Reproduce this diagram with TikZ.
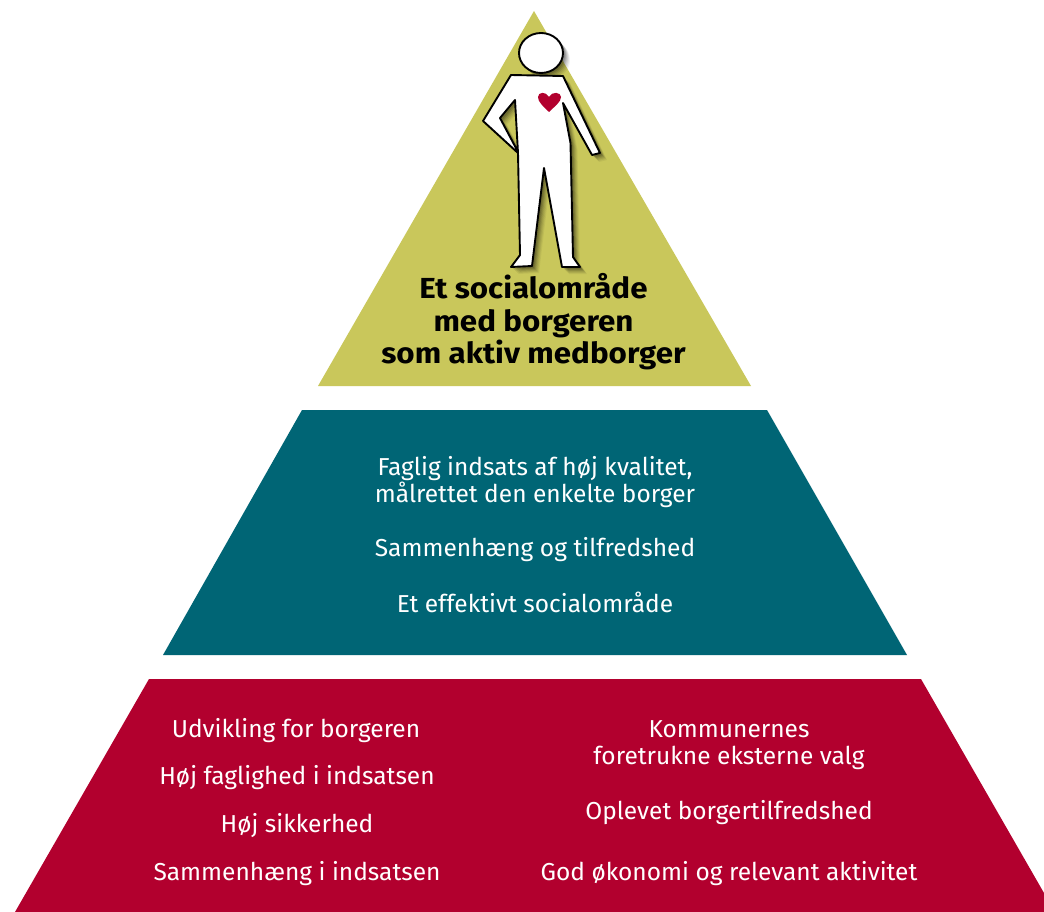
\documentclass[tikz,border=0pt]{standalone}
\usepackage{fontspec}
\setmainfont{Fira Sans}
\newfontfamily\topfont{Fira Sans}[FakeStretch=1.08]
\definecolor{olive}{HTML}{C9C75B}
\definecolor{teal}{HTML}{006575}
\definecolor{crim}{HTML}{B2002E}
\tikzset{x=1pt,y=-1pt,
 wtext/.style={text=white,font=\fontsize{24.5}{27.5}\selectfont,align=center,inner sep=0pt},
 btext/.style={text=black,font=\topfont\fontsize{29}{32.5}\selectfont\bfseries,align=center,inner sep=0pt},
 tier/.style={draw=none}}
\begin{document}
\begin{tikzpicture}
\useasboundingbox[fill=white] (0,0) rectangle (1044,912);
\fill[olive,tier] (534,11) -- (751,386) -- (318,386) -- cycle;
\fill[teal,tier] (302,410) -- (767,410) -- (907,655) -- (163,655) -- cycle;
\fill[crim,tier] (149,679) -- (921,679) -- (1044,893) -- (1044,912) -- (15,912) -- cycle;
% figure shadow
\def\figpath{(511,75) -- (563,76) -- (600,153) -- (592,155) -- (563,103) -- (570.5,143) -- (573,257) -- (580,267) -- (562,267) -- (544,168) -- (532,266) -- (511,267) -- (520,255) -- (518,153) -- (515,100) -- (500,118) -- (517,150) -- (518,153) -- (483,121) -- cycle}
\foreach \d/\o in {7/.05,6/.07,5/.08,4/.10,3/.12,2/.14}{
  \fill[black,opacity=\o,shift={(\d,\d)}] \figpath;
  \fill[black,opacity=\o,shift={(\d,\d)}] (541,53) ellipse[x radius=22,y radius=20];
}
\fill[white,draw=black,line width=1.9pt,line join=round] \figpath;
\fill[white,draw=black,line width=1.9pt] (541,53) ellipse[x radius=22,y radius=20];
\fill[crim] (549,112) .. controls (543,106) and (538,102) .. (538,97) .. controls (538,92) and (546,91) .. (549,97) .. controls (552,91) and (561,92) .. (561,97) .. controls (561,102) and (555,106) .. (549,112) -- cycle;
\node[btext] (top) at (533.5,322) {Et socialområde\\med borgeren\\som aktiv medborger};
\node[wtext] (m1) at (535,482) {Faglig indsats af høj kvalitet,\\målrettet den enkelte borger};
\node[wtext] (m2) at (535,550) {Sammenhæng og tilfredshed};
\node[wtext] (m3) at (535,602) {Et effektivt socialområde};
\node[wtext] (l1) at (296,731) {Udvikling for borgeren};
\node[wtext] (l2) at (297,778) {Høj faglighed i indsatsen};
\node[wtext] (l3) at (297,826) {Høj sikkerhed};
\node[wtext] (l4) at (297,874) {Sammenhæng i indsatsen};
\node[wtext] (r1) at (729,745) {Kommunernes\\foretrukne eksterne valg};
\node[wtext] (r2) at (729,813) {Oplevet borgertilfredshed};
\node[wtext] (r3) at (729,874) {God økonomi og relevant aktivitet};
\end{tikzpicture}
\end{document}
